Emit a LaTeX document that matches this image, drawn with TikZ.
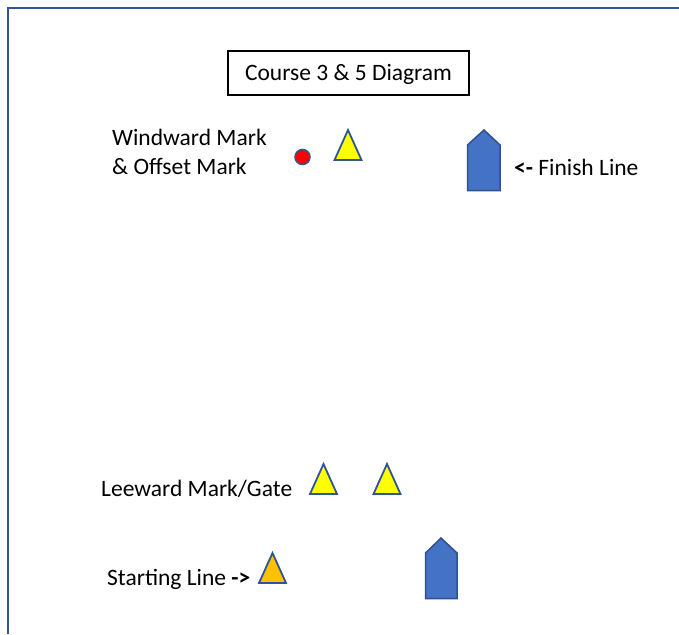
\documentclass[tikz,border=0pt]{standalone}
\usepackage{fontspec}
\setmainfont{Carlito}
\usetikzlibrary{positioning}

\definecolor{frameblue}{RGB}{47,85,151}
\definecolor{boatfill}{RGB}{68,114,196}
\definecolor{boatline}{RGB}{47,82,143}
\definecolor{buoyyellow}{RGB}{255,255,0}
\definecolor{buoyorange}{RGB}{255,192,0}

\begin{document}
\begin{tikzpicture}[x=1pt, y=-1pt,
  txt/.style={anchor=base west, inner sep=0pt, font=\fontsize{23.5}{30}\selectfont},
  buoy/.style={draw=frameblue, line width=1.8pt, fill=buoyyellow},
  boat/.style={draw=boatline, line width=1.5pt, fill=boatfill}]
  \useasboundingbox (0,0) rectangle (679,634);

  % Frame
  \draw[frameblue, line width=2pt] (8,634) -- (8,8) -- (679,8);

  % Title
  \node (title) at (348.5,73) [draw, line width=1.5pt, minimum width=241pt, minimum height=44pt,
    inner sep=0pt, text depth=2pt, font=\fontsize{23.5}{30}\selectfont] {Course 3 \& 5 Diagram};

  % Windward mark & offset mark
  \node (windward) at (112,145) [txt] {Windward Mark};
  \node (offset) at (112,174) [txt] {\& Offset Mark};
  \draw[fill=red, draw=frameblue, line width=1.5pt] (302.5,157) circle (7.5);
  \draw[buoy] (348,130) -- (361.5,160) -- (334.5,160) -- cycle;

  % Finish line boat
  \draw[boat] (467.5,145) -- (484,130) -- (500,145) -- (500,190.5) -- (467.5,190.5) -- cycle;
  \node (finish) at (514,175) [txt] {\textbf{<-} Finish Line};

  % Leeward gate
  \node (leeward) at (101,496) [txt] {Leeward Mark/Gate};
  \foreach \x in {323.5, 387} {
    \draw[buoy] (\x,464) -- (\x+13.5,494) -- (\x-13.5,494) -- cycle;
  }

  % Starting line
  \node (start) at (107,585) [txt] {Starting Line \textbf{->}};
  \draw[buoy, fill=buoyorange] (272.5,553) -- (286,583) -- (259,583) -- cycle;
  \draw[boat] (425.5,553) -- (441,538) -- (457,553) -- (457,598.5) -- (425.5,598.5) -- cycle;

\end{tikzpicture}
\end{document}
